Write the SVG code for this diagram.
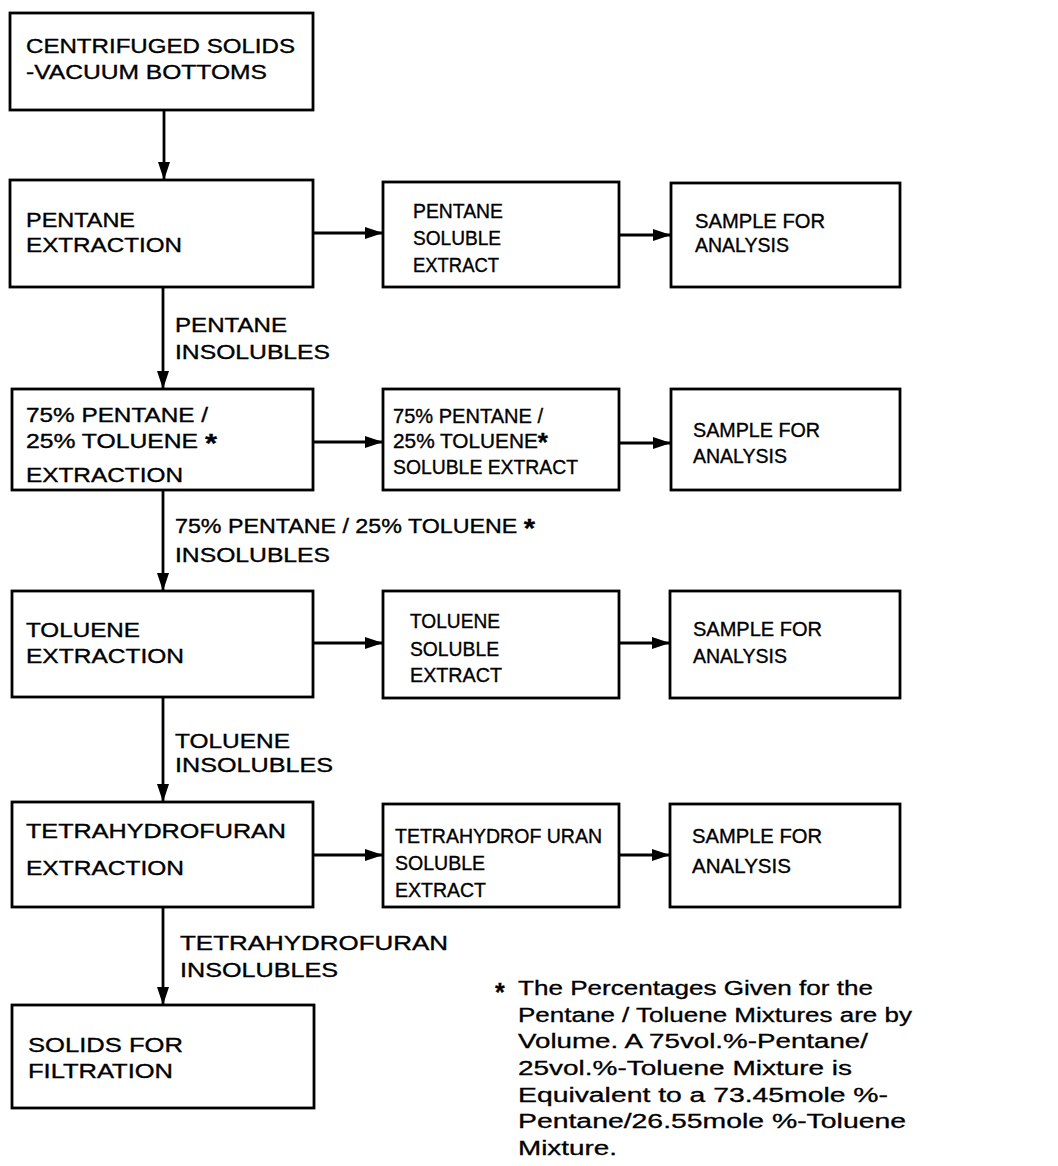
<svg xmlns="http://www.w3.org/2000/svg" width="1058" height="1166" viewBox="0 0 1058 1166">
<style>
.box{fill:#fff;stroke:#000;stroke-width:2.8}
.t{font-family:"Liberation Sans",Arial,sans-serif;font-size:20px;fill:#000;stroke:#000;stroke-width:0.35}
.f{font-family:"Liberation Sans",Arial,sans-serif;font-size:20px;fill:#000;stroke:#000;stroke-width:0.3}
.s{font-size:25px;font-weight:bold}
.c{stroke:#000;stroke-width:2.8;fill:none;marker-end:url(#ah)}
</style>
<defs>
<marker id="ah" markerUnits="userSpaceOnUse" markerWidth="19" markerHeight="13" refX="18" refY="6.5" orient="auto">
<path d="M0,0.5 L18,6.5 L0,12.5 z" fill="#000"/>
</marker>
</defs>
<rect width="1058" height="1166" fill="#fff"/>
<g id="connectors">
<line class="c" x1="164" y1="110" x2="164" y2="180"/>
<line class="c" x1="163" y1="287" x2="163" y2="389"/>
<line class="c" x1="163" y1="490" x2="163" y2="591"/>
<line class="c" x1="163" y1="697" x2="163" y2="802"/>
<line class="c" x1="163" y1="907" x2="163" y2="1005"/>
<line class="c" x1="313" y1="233" x2="383" y2="233"/>
<line class="c" x1="619" y1="235" x2="671" y2="235"/>
<line class="c" x1="313" y1="442" x2="383" y2="442"/>
<line class="c" x1="619" y1="443" x2="671" y2="443"/>
<line class="c" x1="313" y1="643" x2="383" y2="643"/>
<line class="c" x1="619" y1="643" x2="670" y2="643"/>
<line class="c" x1="313" y1="855" x2="383" y2="855"/>
<line class="c" x1="619" y1="855" x2="670" y2="855"/>
<g id="edge-labels">
<text class="t" x="175" y="332" textLength="112" lengthAdjust="spacingAndGlyphs">PENTANE</text>
<text class="t" x="175" y="359" textLength="155" lengthAdjust="spacingAndGlyphs">INSOLUBLES</text>
<text class="t" x="175" y="533" textLength="360" lengthAdjust="spacingAndGlyphs">75% PENTANE / 25% TOLUENE <tspan class="s" dy="4">*</tspan></text>
<text class="t" x="175" y="562" textLength="155" lengthAdjust="spacingAndGlyphs">INSOLUBLES</text>
<text class="t" x="175" y="748" textLength="115" lengthAdjust="spacingAndGlyphs">TOLUENE</text>
<text class="t" x="175" y="772" textLength="158" lengthAdjust="spacingAndGlyphs">INSOLUBLES</text>
<text class="t" x="180" y="950" textLength="268" lengthAdjust="spacingAndGlyphs">TETRAHYDROFURAN</text>
<text class="t" x="180" y="977" textLength="158" lengthAdjust="spacingAndGlyphs">INSOLUBLES</text>
</g>
</g>
<g id="n-centrifuged">
<rect class="box" x="10" y="13" width="303" height="97"/>
<text class="t" x="26" y="53" textLength="269" lengthAdjust="spacingAndGlyphs">CENTRIFUGED SOLIDS</text>
<text class="t" x="26" y="79" textLength="241" lengthAdjust="spacingAndGlyphs">-VACUUM BOTTOMS</text>
</g>
<g id="n-pentane-extraction">
<rect class="box" x="10" y="180" width="303" height="107"/>
<text class="t" x="26" y="227" textLength="109" lengthAdjust="spacingAndGlyphs">PENTANE</text>
<text class="t" x="26" y="252" textLength="156" lengthAdjust="spacingAndGlyphs">EXTRACTION</text>
</g>
<g id="n-pentane-soluble">
<rect class="box" x="383" y="182" width="236" height="105"/>
<text class="t" x="413" y="218" textLength="90" lengthAdjust="spacingAndGlyphs">PENTANE</text>
<text class="t" x="413" y="245" textLength="88" lengthAdjust="spacingAndGlyphs">SOLUBLE</text>
<text class="t" x="413" y="272" textLength="86" lengthAdjust="spacingAndGlyphs">EXTRACT</text>
</g>
<g id="n-sample-1">
<rect class="box" x="671" y="183" width="229" height="104"/>
<text class="t" x="695" y="228" textLength="130" lengthAdjust="spacingAndGlyphs">SAMPLE FOR</text>
<text class="t" x="695" y="252" textLength="94" lengthAdjust="spacingAndGlyphs">ANALYSIS</text>
</g>
<g id="n-mix-extraction">
<rect class="box" x="12" y="389" width="301" height="101"/>
<text class="t" x="26" y="422" textLength="182" lengthAdjust="spacingAndGlyphs">75% PENTANE /</text>
<text class="t" x="26" y="448" textLength="191" lengthAdjust="spacingAndGlyphs">25% TOLUENE <tspan class="s" dy="4">*</tspan></text>
<text class="t" x="26" y="482" textLength="157" lengthAdjust="spacingAndGlyphs">EXTRACTION</text>
</g>
<g id="n-mix-soluble">
<rect class="box" x="383" y="389" width="236" height="101"/>
<text class="t" x="393" y="423" textLength="150" lengthAdjust="spacingAndGlyphs">75% PENTANE /</text>
<text class="t" x="393" y="448" textLength="155" lengthAdjust="spacingAndGlyphs">25% TOLUENE<tspan class="s" dy="3">*</tspan></text>
<text class="t" x="393" y="474" textLength="185" lengthAdjust="spacingAndGlyphs">SOLUBLE EXTRACT</text>
</g>
<g id="n-sample-2">
<rect class="box" x="671" y="389" width="229" height="101"/>
<text class="t" x="693" y="437" textLength="127" lengthAdjust="spacingAndGlyphs">SAMPLE FOR</text>
<text class="t" x="693" y="463" textLength="94" lengthAdjust="spacingAndGlyphs">ANALYSIS</text>
</g>
<g id="n-toluene-extraction">
<rect class="box" x="12" y="591" width="301" height="106"/>
<text class="t" x="26" y="637" textLength="114" lengthAdjust="spacingAndGlyphs">TOLUENE</text>
<text class="t" x="26" y="663" textLength="158" lengthAdjust="spacingAndGlyphs">EXTRACTION</text>
</g>
<g id="n-toluene-soluble">
<rect class="box" x="383" y="591" width="236" height="107"/>
<text class="t" x="410" y="628" textLength="90" lengthAdjust="spacingAndGlyphs">TOLUENE</text>
<text class="t" x="410" y="656" textLength="89" lengthAdjust="spacingAndGlyphs">SOLUBLE</text>
<text class="t" x="410" y="682" textLength="92" lengthAdjust="spacingAndGlyphs">EXTRACT</text>
</g>
<g id="n-sample-3">
<rect class="box" x="670" y="591" width="230" height="107"/>
<text class="t" x="693" y="636" textLength="129" lengthAdjust="spacingAndGlyphs">SAMPLE FOR</text>
<text class="t" x="693" y="663" textLength="94" lengthAdjust="spacingAndGlyphs">ANALYSIS</text>
</g>
<g id="n-thf-extraction">
<rect class="box" x="12" y="802" width="301" height="105"/>
<text class="t" x="26" y="838" textLength="260" lengthAdjust="spacingAndGlyphs">TETRAHYDROFURAN</text>
<text class="t" x="26" y="875" textLength="158" lengthAdjust="spacingAndGlyphs">EXTRACTION</text>
</g>
<g id="n-thf-soluble">
<rect class="box" x="383" y="804" width="236" height="103"/>
<text class="t" x="395" y="843" textLength="207" lengthAdjust="spacingAndGlyphs">TETRAHYDROF URAN</text>
<text class="t" x="395" y="870" textLength="90" lengthAdjust="spacingAndGlyphs">SOLUBLE</text>
<text class="t" x="395" y="897" textLength="91" lengthAdjust="spacingAndGlyphs">EXTRACT</text>
</g>
<g id="n-sample-4">
<rect class="box" x="670" y="804" width="230" height="103"/>
<text class="t" x="692" y="843" textLength="130" lengthAdjust="spacingAndGlyphs">SAMPLE FOR</text>
<text class="t" x="692" y="873" textLength="99" lengthAdjust="spacingAndGlyphs">ANALYSIS</text>
</g>
<g id="n-solids-filtration">
<rect class="box" x="12" y="1005" width="302" height="103"/>
<text class="t" x="28" y="1052" textLength="155" lengthAdjust="spacingAndGlyphs">SOLIDS FOR</text>
<text class="t" x="28" y="1078" textLength="145" lengthAdjust="spacingAndGlyphs">FILTRATION</text>
</g>
<g id="footnote">
<text class="f s" x="495" y="1001">*</text>
<text class="f" x="518" y="995" textLength="355" lengthAdjust="spacingAndGlyphs">The Percentages Given for the</text>
<text class="f" x="518" y="1022" textLength="394" lengthAdjust="spacingAndGlyphs">Pentane / Toluene Mixtures are by</text>
<text class="f" x="518" y="1048" textLength="350" lengthAdjust="spacingAndGlyphs">Volume. A 75vol.%-Pentane/</text>
<text class="f" x="518" y="1075" textLength="334" lengthAdjust="spacingAndGlyphs">25vol.%-Toluene Mixture is</text>
<text class="f" x="518" y="1102" textLength="370" lengthAdjust="spacingAndGlyphs">Equivalent to a 73.45mole %-</text>
<text class="f" x="518" y="1128" textLength="388" lengthAdjust="spacingAndGlyphs">Pentane/26.55mole %-Toluene</text>
<text class="f" x="518" y="1155" textLength="99" lengthAdjust="spacingAndGlyphs">Mixture.</text>
</g>
</svg>
